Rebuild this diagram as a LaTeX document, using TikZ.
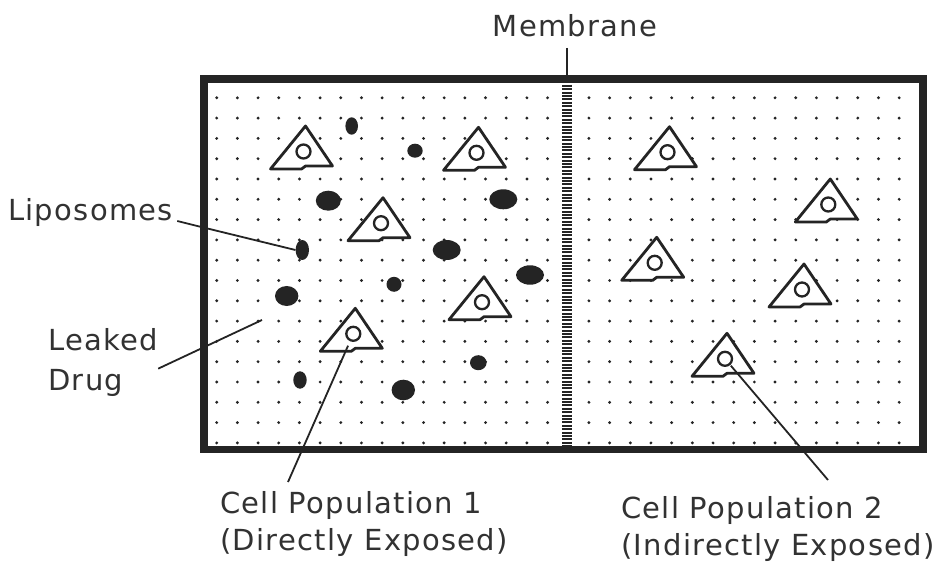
\documentclass[tikz,border=0pt]{standalone}
\usepackage{fontspec}
\setmainfont{DejaVu Sans}[LetterSpace=4.5]
\usetikzlibrary{shapes.geometric}
\definecolor{ink}{RGB}{36,36,36}
\definecolor{textgrey}{RGB}{50,50,50}
\tikzset{
  tank/.style={draw=ink, line width=5pt, inner sep=0pt},
  poreline/.style={draw=ink, line width=10pt, dash pattern=on 2pt off 1.4pt},
  lipo/.style={ellipse, fill=ink, inner sep=0pt},
  cellbody/.style={draw=ink, fill=white, line width=2.8pt, line join=round},
  nucleus/.style={draw=ink, line width=2.3pt},
  leader/.style={draw=ink, line width=1.8pt},
  tag/.style={text=textgrey, inner sep=0pt, font=\fontsize{29}{35}\selectfont},
}
% a cell: triangle body with its nucleus, #1 names the nucleus, #2 is the apex
\newcommand{\drawcell}[2]{%
  \filldraw[cellbody, shift={(#2)}] (0,0) -- (27,40) -- (0,40) -- (-4,43) -- (-35,43) -- cycle;
  \draw[nucleus, shift={(#2)}] (-2,25.5) circle (7);
  \path[shift={(#2)}] (-2,25.5) coordinate (#1);}
\begin{document}
\begin{tikzpicture}[x=1pt, y=-1pt]
    \useasboundingbox (0,0) rectangle (950,569);
    \fill[white] (0,0) rectangle (950,569);

    % medium
    \foreach \i in {0,...,33}
      \foreach \j in {0,...,17} {
        \ifnum\i=17\else
          \fill[ink] (216.7+20.68*\i, 97.8+20.3*\j) circle (1.6);
        \fi
      }
    \coordinate (memtop) at (567,48);
    \node[tank, minimum width=716.5pt, minimum height=367.5pt, anchor=north west] (tank) at (202.5,78) {};
    \draw[poreline] (memtop |- tank.north) -- (memtop |- tank.south);

    % liposomes
    \foreach \x/\y/\w/\h [count=\i] in {351.7/126/12.6/17.4, 415/150.7/15.4/14, 328.3/200.7/25/20,
        503.3/199.3/28/20, 302.3/250/13.4/20, 446.7/250/28/20, 530/275/28/19.4, 394/284.3/15/15,
        286.7/296/23.4/20, 478.3/362.7/16.6/15, 300/380/13.4/17.4, 403.3/390/23.4/20.6}
      \node[lipo, minimum width=\w pt, minimum height=\h pt] (lip\i) at (\x,\y) {};

    % cells
    \drawcell{cellA}{305.5,126}
    \drawcell{cellB}{478.5,127.3}
    \drawcell{cellC}{383,197.7}
    \drawcell{cellD}{484,276.7}
    \drawcell{cellE}{355.3,308.3}
    \drawcell{cellF}{669.5,126.7}
    \drawcell{cellG}{830.3,179}
    \drawcell{cellH}{656.7,237.3}
    \drawcell{cellI}{804,264}
    \drawcell{cellJ}{727,333.3}

    \draw[tank] (tank.north west) rectangle (tank.south east);

    % labels
    \node[tag, anchor=base] (membrane) at (575,37) {Membrane};
    \node[tag, anchor=base west] (liposomes) at (8,221) {Liposomes};
    \node[tag, anchor=base west] (leaked) at (48,350) {Leaked};
    \node[tag, anchor=base west] (drug) at (48,390) {Drug};
    \node[tag, anchor=base west] (pop1) at (220,513) {Cell Population 1};
    \node[tag, anchor=base west] (pop1note) at (220,550) {(Directly Exposed)};
    \node[tag, anchor=base west] (pop2) at (621,518) {Cell Population 2};
    \node[tag, anchor=base west] (pop2note) at (621,555) {(Indirectly Exposed)};

    \coordinate (spill) at (262,320);
    \coordinate (pop1tip) at (288,482);
    \coordinate (pop2tip) at (828,480);
    \draw[leader] (memtop) -- (memtop |- tank.north);
    \draw[leader] ([xshift=4pt]liposomes.base east) -- ++(20,5) -- (lip5.west);
    \draw[leader] (leaked.south east |- drug.north) -- (spill);
    \draw[leader, shorten >=13pt] (pop1tip) -- (cellE);
    \draw[leader, shorten <=9pt] (cellJ) -- (pop2tip);
\end{tikzpicture}
\end{document}
